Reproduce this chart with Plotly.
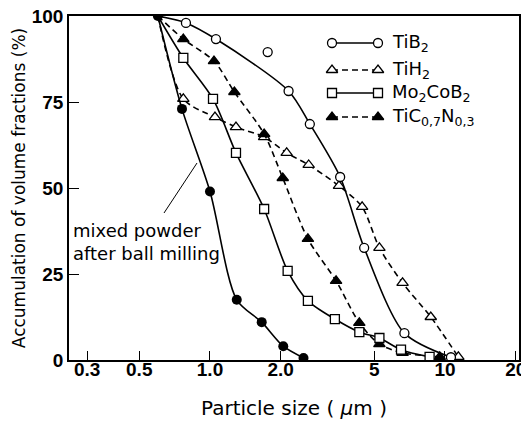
import plotly.graph_objects as go

# ---- data ----
start_x = 0.6
start_y = 100

mixed_x = [0.6, 0.76, 1.0, 1.3, 1.66, 2.05, 2.5]
mixed_y = [100, 73, 49, 17.5, 11, 4, 0.6]

tib2_x = [0.79, 1.06, 2.16, 2.66, 3.58, 4.53, 6.72, 10.6]
tib2_y = [98, 93.3, 78.2, 68.6, 53.2, 32.6, 7.8, 0.8]
tib2_outlier_x = [1.76]
tib2_outlier_y = [89.5]

tih2_x = [0.77, 1.05, 1.29, 1.70, 2.12, 2.63, 3.54, 4.44, 5.26, 6.6, 8.7, 11.4]
tih2_y = [75.9, 70.6, 67.7, 64.8, 60.2, 56.7, 50.6, 44.5, 32.6, 22.4, 12.5, 0.9]

mo_x = [0.77, 1.03, 1.29, 1.70, 2.14, 2.61, 3.40, 4.32, 5.26, 6.5, 8.6]
mo_y = [87.8, 75.9, 60.2, 43.9, 25.9, 17.2, 11.9, 8.1, 6.4, 3.0, 0.9]

ticn_x = [0.77, 1.04, 1.27, 1.70, 2.04, 2.61, 3.44, 4.32, 5.26, 6.6, 9.5]
ticn_y = [93.3, 86.9, 77.9, 65.7, 52.9, 35.2, 23.0, 10.8, 4.6, 2.1, 0.9]

x_tick_vals = [0.3, 0.5, 1.0, 2.0, 5, 10, 20]
x_tick_text = ["0.3", "0.5", "1.0", "2.0", "5", "10", "20"]
y_tick_vals = [0, 25, 50, 75, 100]

legend_names = ["TiB<sub>2</sub>", "TiH<sub>2</sub>", "Mo<sub>2</sub>CoB<sub>2</sub>",
                "TiC<sub>0,7</sub>N<sub>0,3</sub>"]

# ---- styling ----
LW = 1.6
DASH = "6px,4px"
SANS = "DejaVu Sans, Noto Sans, sans-serif"
TICKFONT = dict(family="Liberation Sans Narrow, Arial Narrow, sans-serif", size=19,
                color="black", weight="bold")
TEXTFONT = dict(family=SANS, size=18, color="black")

fig = go.Figure()

def curve(xs, ys, dash, symbol, filled, size=9):
    fig.add_trace(go.Scatter(
        x=[start_x] + xs, y=[start_y] + ys, mode="lines",
        line=dict(color="black", width=LW, dash=dash, shape="spline", smoothing=0.8),
        showlegend=False, hoverinfo="skip"))
    fig.add_trace(go.Scatter(
        x=xs, y=ys, mode="markers",
        marker=dict(symbol=symbol, size=size,
                    color="black" if filled else "white",
                    line=dict(color="black", width=1.3)),
        showlegend=False))

curve(tih2_x, tih2_y, DASH, "triangle-up", False, 10)
curve(ticn_x, ticn_y, DASH, "triangle-up", True, 10)
curve(mo_x, mo_y, "solid", "square", False, 9)
curve(tib2_x, tib2_y, "solid", "circle", False, 9)
fig.add_trace(go.Scatter(
    x=tib2_outlier_x, y=tib2_outlier_y, mode="markers",
    marker=dict(symbol="circle", size=9, color="white", line=dict(color="black", width=1.3)),
    showlegend=False))
# mixed powder (curve starts at the shared point)
fig.add_trace(go.Scatter(
    x=mixed_x, y=mixed_y, mode="lines+markers",
    line=dict(color="black", width=LW, shape="spline", smoothing=0.8),
    marker=dict(symbol="circle", size=10, color="black"),
    showlegend=False))

# leader line for the annotation (overlay axis, plot-fraction coordinates)
fig.add_trace(go.Scatter(
    x=[(197 - 69) / 450, (164 - 69) / 450], y=[(360 - 163) / 344, (360 - 213) / 344],
    xaxis="x2", yaxis="y2", mode="lines", line=dict(color="black", width=1),
    showlegend=False, hoverinfo="skip"))

# custom legend drawn on the overlay axis
leg_rows = [(360 - 43) / 344, (360 - 70) / 344, (360 - 93) / 344, (360 - 117) / 344]
leg_x0, leg_x1 = (332 - 69) / 450, (378 - 69) / 450
leg_style = [("solid", "circle", False), (DASH, "triangle-up", False),
             ("solid", "square", False), (DASH, "triangle-up", True)]
for yv, (dash, sym, filled), name in zip(leg_rows, leg_style, legend_names):
    fig.add_trace(go.Scatter(
        x=[leg_x0, leg_x1], y=[yv, yv], xaxis="x2", yaxis="y2", mode="lines+markers",
        line=dict(color="black", width=LW, dash=dash),
        marker=dict(symbol=sym, size=10 if "triangle" in sym else 9,
                    color="black" if filled else "white",
                    line=dict(color="black", width=1.3)),
        showlegend=False, hoverinfo="skip"))
    fig.add_annotation(x=(390 - 69) / 450, y=yv, xref="paper", yref="paper",
                       text=name, showarrow=False, xanchor="left", yanchor="middle",
                       font=dict(family=SANS, size=18, color="black"))

fig.add_annotation(x=(71 - 69) / 450, y=(360 - 242) / 344, xref="paper", yref="paper",
                   text="mixed powder<br>after ball milling", showarrow=False,
                   xanchor="left", yanchor="middle", align="left", font=TEXTFONT)

# page body has an 8px margin, so the figure is 8px smaller and margins shifted
fig.update_layout(
    width=521, height=415,
    margin=dict(l=61, r=10, t=8, b=63),
    paper_bgcolor="white", plot_bgcolor="white",
    xaxis=dict(type="log", range=[-0.60, 1.315], automargin=False,
               tickvals=x_tick_vals, ticktext=x_tick_text,
               ticks="inside", ticklen=9, tickwidth=1.3, tickcolor="black",
               ticklabeloverflow="allow", ticklabelstandoff=-9,
               showline=True, linecolor="black", linewidth=1.6, mirror=True,
               showgrid=False, zeroline=False, tickfont=TICKFONT,
               title=dict(text="Particle size ( <i>μ</i>m )", standoff=22,
                          font=dict(family=SANS, size=20, color="black"))),
    yaxis=dict(range=[0, 100], tickvals=y_tick_vals, automargin=False,
               ticks="inside", ticklen=10, tickwidth=1.3, tickcolor="black",
               ticklabeloverflow="allow",
               showline=True, linecolor="black", linewidth=1.6, mirror=True,
               showgrid=False, zeroline=False, tickfont=TICKFONT,
               title=dict(text="Accumulation of volume fractions (%)", standoff=2,
                          font=dict(family=SANS, size=17, color="black"))),
    xaxis2=dict(overlaying="x", range=[0, 1], visible=False),
    yaxis2=dict(overlaying="y", range=[0, 1], visible=False),
)

fig.write_html("out.html")
